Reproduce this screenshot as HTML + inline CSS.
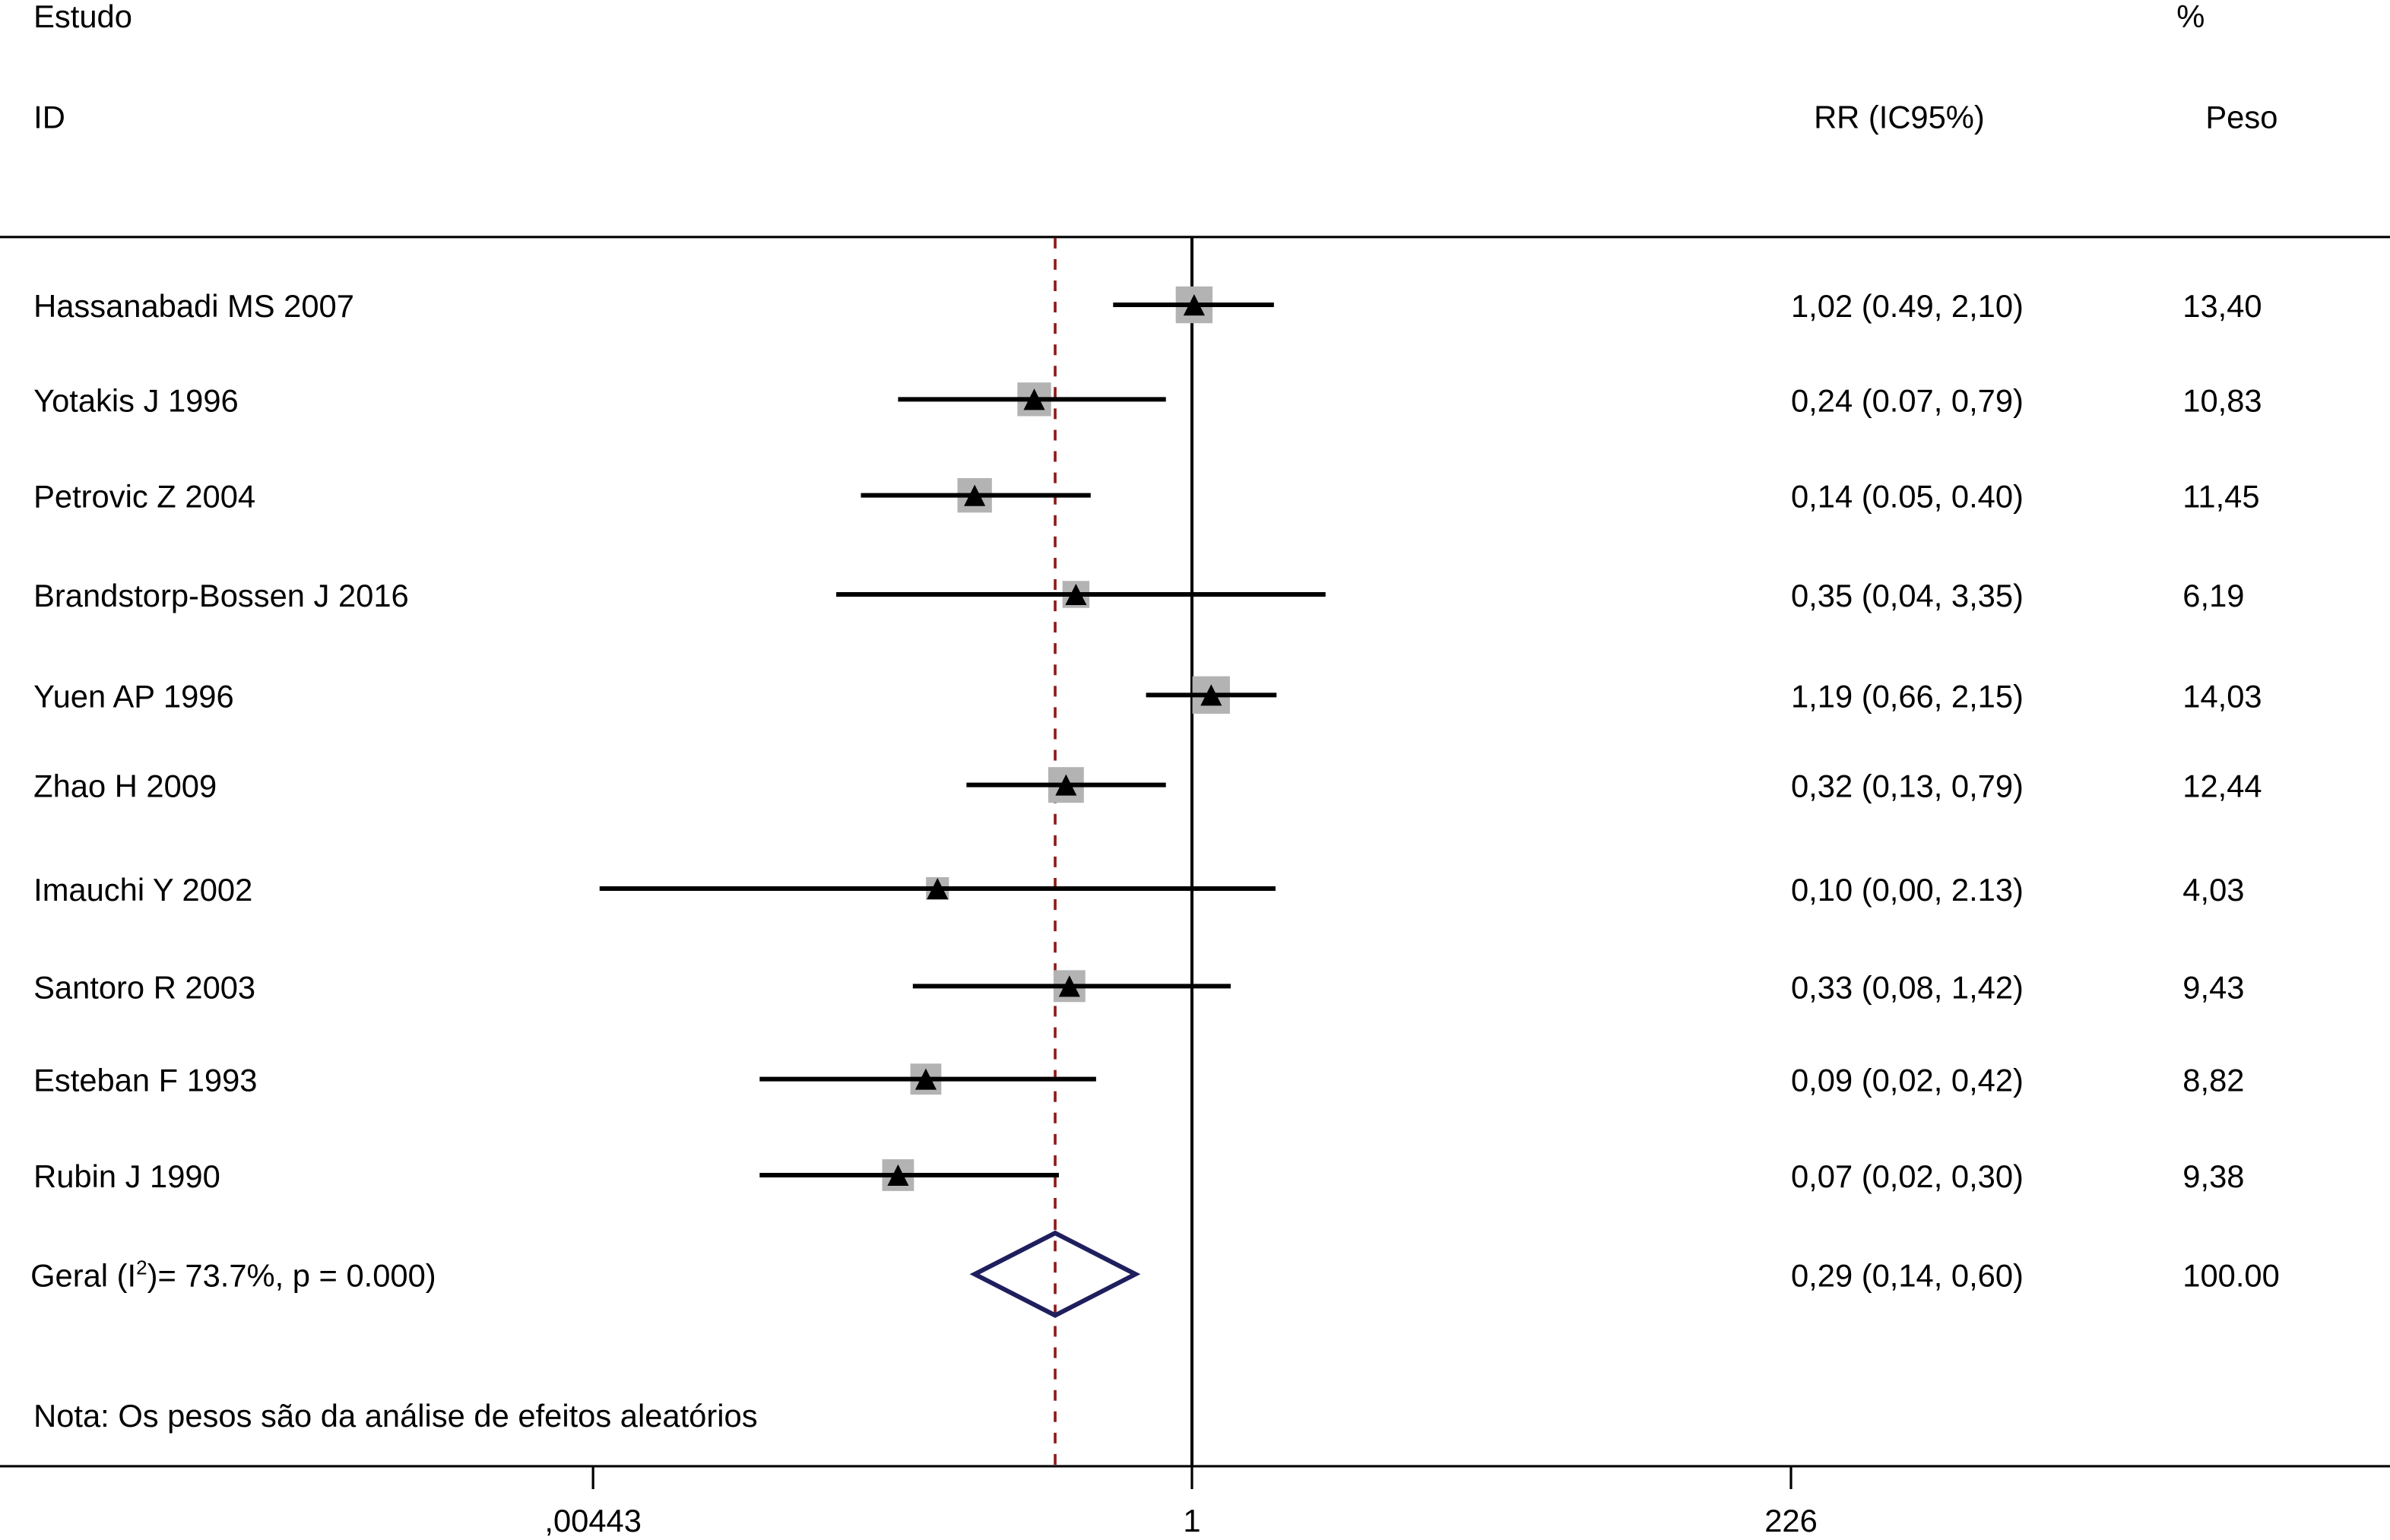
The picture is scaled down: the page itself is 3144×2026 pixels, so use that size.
<!DOCTYPE html>
<html><head><meta charset="utf-8"><style>
html,body{margin:0;padding:0;background:#fff}
svg{display:block}
text{font-family:"Liberation Sans",Arial,sans-serif;font-size:20.8px;fill:#000}
</style></head><body>
<svg id="chart" width="3144" height="2026" viewBox="0 0 1568 1010.4" preserveAspectRatio="none" xmlns="http://www.w3.org/2000/svg">
<text x="22" y="18">Estudo</text>
<text x="1428" y="18">%</text>
<text x="22" y="84">ID</text>
<text x="1190" y="84">RR (IC95%)</text>
<text x="1447" y="84">Peso</text>
<line x1="0" y1="155.5" x2="1568" y2="155.5" stroke="#000" stroke-width="1.6"/>
<line x1="0" y1="962" x2="1568" y2="962" stroke="#000" stroke-width="1.6"/>
<g id="plot"></g>
<text x="22" y="936">Nota: Os pesos são da análise de efeitos aleatórios</text>
</svg>
<script>
const studies = ["Hassanabadi MS 2007","Yotakis J 1996","Petrovic Z 2004","Brandstorp-Bossen J 2016","Yuen AP 1996","Zhao H 2009","Imauchi Y 2002","Santoro R 2003","Esteban F 1993","Rubin J 1990"];
const rr = [1.02,0.24,0.14,0.35,1.19,0.32,0.10,0.33,0.09,0.07];
const ciLow = [0.49,0.07,0.05,0.04,0.66,0.13,0.0047,0.08,0.02,0.02];
const ciHigh = [2.10,0.79,0.40,3.35,2.15,0.79,2.13,1.42,0.42,0.30];
const ciLabels = ["1,02 (0.49, 2,10)","0,24 (0.07, 0,79)","0,14 (0.05, 0.40)","0,35 (0,04, 3,35)","1,19 (0,66, 2,15)","0,32 (0,13, 0,79)","0,10 (0,00, 2.13)","0,33 (0,08, 1,42)","0,09 (0,02, 0,42)","0,07 (0,02, 0,30)"];
const weights = [13.40,10.83,11.45,6.19,14.03,12.44,4.03,9.43,8.82,9.38];
const weightLabels = ["13,40","10,83","11,45","6,19","14,03","12,44","4,03","9,43","8,82","9,38"];
const overall = {rr:0.29, low:0.14, high:0.60, label:"0,29 (0,14, 0,60)", weight:"100.00"};
const xTicks = [0.00443, 1, 226];
const xTickLabels = [",00443", "1", "226"];

const NS="http://www.w3.org/2000/svg";
const g=document.getElementById('plot');
const x=v=>782+Math.log(v)/Math.log(226)*393;
const rowY=[200,262,325,390,456,515,583,647,708,771];
function el(t,a,txt){const e=document.createElementNS(NS,t);for(const k in a)e.setAttribute(k,a[k]);if(txt!==undefined)e.textContent=txt;g.appendChild(e);return e;}

let e=el('line',{x1:x(1),y1:155,x2:x(1),y2:962,stroke:'#000','stroke-width':2});


e=el('line',{x1:x(overall.rr),y1:156,x2:x(overall.rr),y2:962,stroke:'#8b1a1a','stroke-width':1.8,'stroke-dasharray':'7 7'});



studies.forEach((s,i)=>{
  const y=rowY[i], cx=x(rr[i]), side=5.5*Math.sqrt(weights[i])+4;
  let t=el('text',{x:22,y:y+8},s);
  
  
  let b=el('rect',{x:cx-side/2,y:y-side/2,width:side,height:side,fill:'#b3b3b3'});
  
  
  let l=el('line',{x1:x(ciLow[i]),y1:y,x2:x(ciHigh[i]),y2:y,stroke:'#000','stroke-width':3});
  
  
  let p=el('polygon',{points:`${cx-7},${y+7} ${cx+7},${y+7} ${cx},${y-7}`,fill:'#000'});
  
  
  let c=el('text',{x:1175,y:y+8},ciLabels[i]);
  
  
  let w=el('text',{x:1432,y:y+8},weightLabels[i]);
  
  
});

const dy=836;
let d=el('polygon',{points:`${x(overall.low)},${dy} ${x(overall.rr)},${dy-27} ${x(overall.high)},${dy} ${x(overall.rr)},${dy+27}`,fill:'none',stroke:'#1f1f5e','stroke-width':3});


let ot=el('text',{x:20,y:dy+8});
ot.innerHTML='Geral (I<tspan dy="-8" font-size="13">2</tspan><tspan dy="8">)= 73.7%, p = 0.000)</tspan>';


let oc=el('text',{x:1175,y:dy+8},overall.label);


let ow=el('text',{x:1432,y:dy+8},overall.weight);



xTicks.forEach((v,i)=>{
  let tk=el('line',{x1:x(v),y1:962,x2:x(v),y2:977,stroke:'#000','stroke-width':1.6});
  
  
  let tl=el('text',{x:x(v),y:1005,'text-anchor':'middle'},xTickLabels[i]);
  
  
});
</script>
</body></html>
